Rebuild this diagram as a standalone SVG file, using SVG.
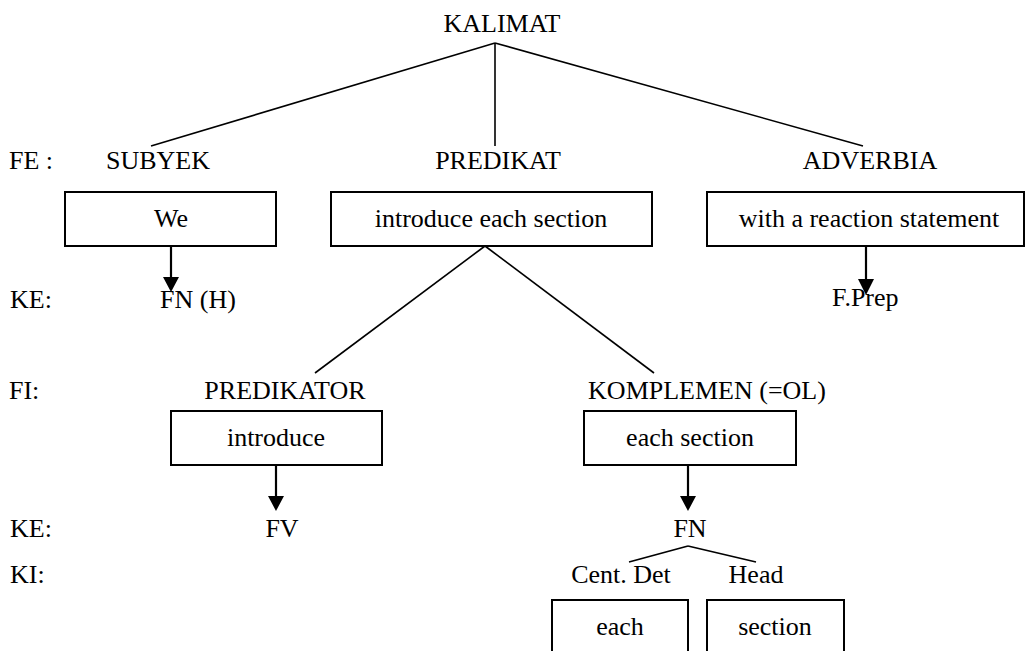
<svg xmlns="http://www.w3.org/2000/svg" width="1026" height="651" viewBox="0 0 1026 651" font-family="'Liberation Serif', 'Times New Roman', 'DejaVu Serif', serif">
<defs>
<style>
text{font-family:'Liberation Serif','Times New Roman','DejaVu Serif',serif;font-size:26px;fill:#000}
.c{text-anchor:middle}
.box{fill:#fff;stroke:#000;stroke-width:2}
.ln{stroke:#000;stroke-width:1.6;fill:none}
.ar{stroke:#000;stroke-width:2.2;fill:none}
.ah{fill:#000}
</style>
</defs>
<rect width="1026" height="651" fill="#fff"/>
<g id="levels">
<text x="9" y="169">FE :</text>
<text x="10" y="308">KE:</text>
<text x="9" y="399">FI:</text>
<text x="10" y="537">KE:</text>
<text x="10" y="583">KI:</text>
</g>
<g id="connectors">
<line class="ln" x1="495" y1="43" x2="151" y2="146"/>
<line class="ln" x1="495" y1="43" x2="495" y2="146"/>
<line class="ln" x1="495" y1="43" x2="863" y2="146"/>
<line class="ln" x1="485" y1="246" x2="315" y2="373"/>
<line class="ln" x1="485" y1="246" x2="654" y2="373"/>
<line class="ln" x1="688" y1="546" x2="629" y2="562"/>
<line class="ln" x1="688" y1="546" x2="756" y2="562"/>
<line class="ar" x1="171" y1="246" x2="171" y2="278"/>
<polygon class="ah" points="163,277 179,277 171,292"/>
<line class="ar" x1="866" y1="246" x2="866" y2="280"/>
<polygon class="ah" points="858,279 874,279 866,295"/>
<line class="ar" x1="276" y1="465" x2="276" y2="497"/>
<polygon class="ah" points="268,496 284,496 276,511"/>
<line class="ar" x1="688" y1="465" x2="688" y2="497"/>
<polygon class="ah" points="680,496 696,496 688,511"/>
</g>
<g id="kalimat"><text class="c" x="502" y="32">KALIMAT</text></g>
<g id="subyek"><text class="c" x="158" y="169">SUBYEK</text></g>
<g id="predikat"><text class="c" x="498" y="169">PREDIKAT</text></g>
<g id="adverbia"><text class="c" x="870" y="169">ADVERBIA</text></g>
<g id="box-we"><rect class="box" x="65" y="192" width="211" height="54"/><text class="c" x="171" y="227">We</text></g>
<g id="box-introduce-each-section"><rect class="box" x="331" y="192" width="321" height="54"/><text class="c" x="491" y="227">introduce each section</text></g>
<g id="box-with-a-reaction"><rect class="box" x="707" y="192" width="317" height="54"/><text class="c" x="869" y="227">with a reaction statement</text></g>
<g id="fn-h"><text x="160" y="308">FN (H)</text></g>
<g id="fprep"><text x="832" y="306">F.Prep</text></g>
<g id="predikator"><text class="c" x="285" y="399">PREDIKATOR</text></g>
<g id="komplemen"><text class="c" x="707" y="399">KOMPLEMEN (=OL)</text></g>
<g id="box-introduce"><rect class="box" x="171" y="411" width="211" height="54"/><text class="c" x="276" y="446">introduce</text></g>
<g id="box-each-section"><rect class="box" x="584" y="411" width="212" height="54"/><text class="c" x="690" y="446">each section</text></g>
<g id="fv"><text class="c" x="282" y="537">FV</text></g>
<g id="fn"><text class="c" x="690" y="537">FN</text></g>
<g id="cent-det"><text class="c" x="621" y="583">Cent. Det</text></g>
<g id="head"><text class="c" x="756" y="583">Head</text></g>
<g id="box-each"><rect class="box" x="552" y="600" width="136" height="60"/><text class="c" x="620" y="635">each</text></g>
<g id="box-section"><rect class="box" x="707" y="600" width="137" height="60"/><text class="c" x="775" y="635">section</text></g>
</svg>
